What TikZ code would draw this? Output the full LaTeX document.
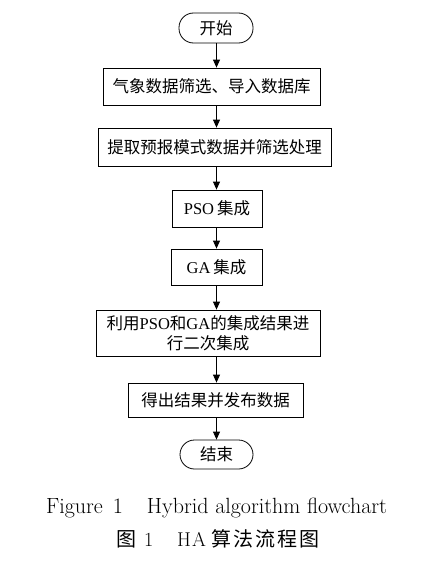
\documentclass[tikz,border=0pt]{standalone}
\usepackage{fontspec}
\newfontfamily\cjk{Noto Sans CJK SC}
\newfontfamily\tnr{Liberation Serif}
\usetikzlibrary{arrows.meta}
\tikzset{
  box/.style={draw, line width=0.8pt, inner sep=0pt, align=center,
    font=\fontsize{16.5}{20.5}\selectfont\cjk},
  term/.style={box, rounded corners=14.5pt},
  flow/.style={line width=0.8pt, -{Triangle[length=8pt,width=7pt]}},
  captext/.style={inner sep=0pt, font=\fontsize{20}{24}\selectfont}
}
\begin{document}
\begin{tikzpicture}[x=1pt,y=-1pt]
\useasboundingbox[fill=white] (0,0) rectangle (428,562);
\coordinate (axis) at (216.5,0);
\node[term, minimum width=74pt, minimum height=30pt] (start) at (216,28) {开始};
\node[box, minimum width=217pt, minimum height=37pt] (b1) at (211.5,86.5) {气象数据筛选、导入数据库};
\node[box, minimum width=233pt, minimum height=38pt] (b2) at (214.5,147) {提取预报模式数据并筛选处理};
\node[box, minimum width=90pt, minimum height=37pt] (b3) at (217,208.5) {{\tnr PSO}\hspace{3pt}集成};
\node[box, minimum width=91pt, minimum height=36pt] (b4) at (216.5,267) {{\tnr GA}\hspace{3pt}集成};
\node[box, minimum width=224pt, minimum height=46pt] (b5) at (208,333) {利用{\tnr PSO}和{\tnr GA}的集成结果进\\行二次集成};
\node[box, minimum width=175pt, minimum height=34pt] (b6) at (215.5,400) {得出结果并发布数据};
\node[term, minimum width=73pt, minimum height=29pt] (end) at (216.5,454.5) {结束};
\draw[flow] (axis |- start.south) -- (axis |- b1.north);
\draw[flow] (axis |- b1.south) -- (axis |- b2.north);
\draw[flow] (axis |- b2.south) -- (axis |- b3.north);
\draw[flow] (axis |- b3.south) -- (axis |- b4.north);
\draw[flow] (axis |- b4.south) -- (axis |- b5.north);
\draw[flow] (axis |- b5.south) -- (axis |- b6.north);
\draw[flow] (axis |- b6.south) -- (axis |- end.north);
\node[captext, anchor=base, font=\fontsize{22}{26}\selectfont\addfontfeatures{LetterSpace=2}] (cap1) at (216.5,513) {Figure\hspace{10pt}1\hspace{24pt}Hybrid algorithm flowchart};
\node[captext] (cap2) at (218,539) {{\cjk 图}\hspace{8pt}1\hspace{24pt}H\hspace{1pt}A\hspace{6pt}{\cjk 算\hspace{2pt}法\hspace{2pt}流\hspace{2pt}程\hspace{2pt}图}};
\end{tikzpicture}
\end{document}
